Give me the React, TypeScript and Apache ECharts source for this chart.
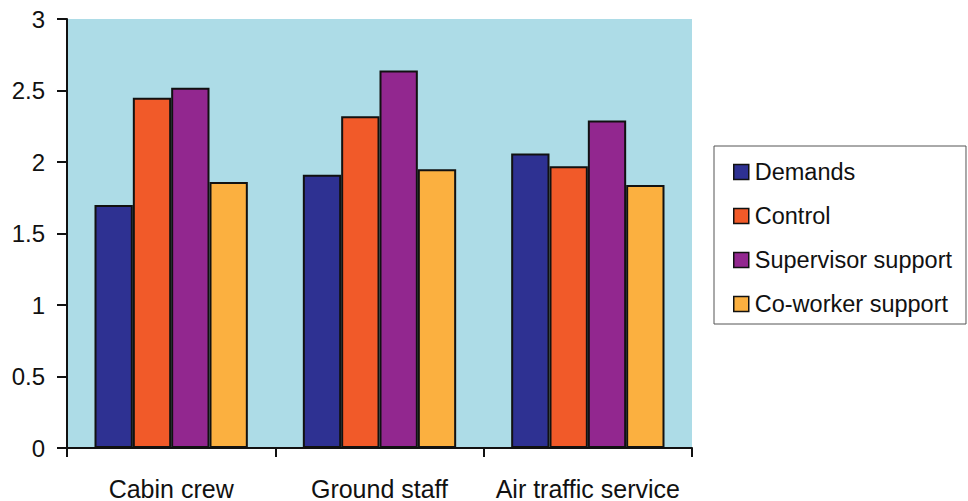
import React, { useEffect, useRef } from "react";
import * as echarts from "echarts";

const categories = ["Cabin crew", "Ground staff", "Air traffic service"];
const demands = [1.7, 1.91, 2.06];
const control = [2.45, 2.32, 1.97];
const supervisorSupport = [2.52, 2.64, 2.29];
const coworkerSupport = [1.86, 1.95, 1.84];

const seriesNames = ["Demands", "Control", "Supervisor support", "Co-worker support"];
const seriesColors = ["#2E3192", "#F15A29", "#92278F", "#FBB040"];
const seriesData = [demands, control, supervisorSupport, coworkerSupport];

const FONT = "'Liberation Sans', Arial, Helvetica, sans-serif";

export default function App() {
  const ref = useRef<HTMLDivElement>(null);

  useEffect(() => {
    if (!ref.current) return;
    const chart = echarts.init(ref.current, undefined, { renderer: "svg" });
    chart.setOption({
      animation: false,
      backgroundColor: "#ffffff",
      grid: {
        left: 67,
        right: 276,
        top: 19,
        bottom: 53,
        show: true,
        backgroundColor: "#ADDCE7",
        borderWidth: 0,
      },
      legend: {
        orient: "vertical",
        left: 714,
        top: 146,
        icon: "rect",
        itemWidth: 15,
        itemHeight: 15,
        itemGap: 20,
        padding: [14, 14, 8, 19],
        backgroundColor: "#ffffff",
        borderColor: "#555555",
        borderWidth: 1,
        textStyle: { fontFamily: FONT, fontSize: 23.5, color: "#111111", padding: [2, 0, 0, 1] },
        itemStyle: { borderColor: "#111111", borderWidth: 1.5 },
        data: seriesNames,
      },
      xAxis: {
        type: "category",
        data: categories,
        axisLine: { lineStyle: { color: "#111111", width: 2 } },
        axisTick: { show: true, length: 9, lineStyle: { color: "#111111", width: 2 } },
        axisLabel: { fontFamily: FONT, fontSize: 25, color: "#111111", margin: 28, interval: 0 },
        splitLine: { show: false },
      },
      yAxis: {
        type: "value",
        min: 0,
        max: 3,
        interval: 0.5,
        axisLine: { show: true, lineStyle: { color: "#111111", width: 2 } },
        axisTick: { show: true, length: 10, lineStyle: { color: "#111111", width: 2 } },
        axisLabel: { fontFamily: FONT, fontSize: 24, color: "#111111", margin: 22 },
        splitLine: { show: false },
      },
      series: seriesNames.map((name, i) => ({
        name,
        type: "bar",
        data: seriesData[i],
        barGap: "0%",
        barCategoryGap: "26.4%",
        itemStyle: { color: seriesColors[i], borderColor: "#111111", borderWidth: 2 },
      })),
    });
    return () => chart.dispose();
  }, []);

  return <div ref={ref} style={{ width: 968, height: 501, position: "absolute", left: 0, top: 0 }} />;
}
